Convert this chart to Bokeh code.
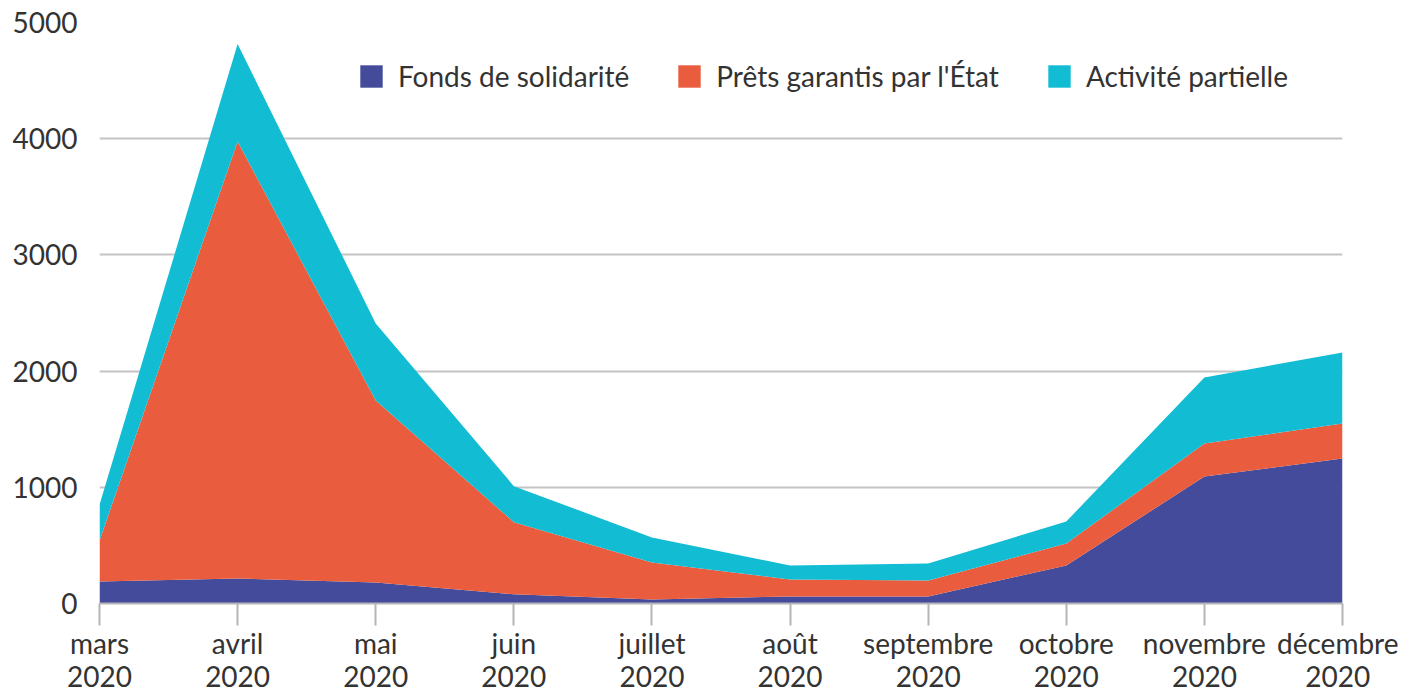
from bokeh.plotting import figure
from bokeh.models import Range1d, FixedTicker, ColumnDataSource, Legend, LegendItem
from bokeh.embed import file_html
from bokeh.resources import INLINE

months = ["mars\n2020", "avril\n2020", "mai\n2020", "juin\n2020", "juillet\n2020",
          "août\n2020", "septembre\n2020", "octobre\n2020", "novembre\n2020", "décembre\n2020"]
fonds = [190, 215, 180, 80, 35, 60, 60, 327, 1093, 1248]
prets = [350, 3760, 1567, 620, 318, 147, 138, 189, 284, 301]
activite = [310, 840, 663, 310, 215, 120, 146, 190, 568, 611]
series_names = ["Fonds de solidarité", "Prêts garantis par l'État", "Activité partielle"]
colors = ["#444B9A", "#EA5C3E", "#12BDD4"]
y_ticks = [0, 1000, 2000, 3000, 4000, 5000]

FONT = "Lato"
TXT = "#333333"

x = list(range(len(months)))
src = ColumnDataSource(dict(x=x, fonds=fonds, prets=prets, activite=activite))

W, H = 1398, 695
p = figure(width=W, height=H, output_backend="svg", toolbar_location=None,
           x_range=Range1d(0, len(months) - 1), y_range=Range1d(0, 5000),
           min_border_left=99, min_border_right=W - 1342, min_border_top=22,
           min_border_bottom=H - 603)
p.outline_line_color = None
p.background_fill_color = "white"

rs = p.varea_stack(["fonds", "prets", "activite"], x="x", source=src, color=colors)

legend = Legend(items=[LegendItem(label=n, renderers=[r]) for n, r in zip(series_names, rs)],
                orientation="horizontal", location=(258, 510))
legend.background_fill_alpha = 0
legend.border_line_color = None
legend.glyph_width = 28
legend.glyph_height = 28
legend.label_text_font = FONT
legend.label_text_font_size = "28px"
legend.label_text_color = TXT
legend.label_standoff = 13
legend.spacing = 46
legend.padding = 0
legend.margin = 0
legend.label_height = 28
p.add_layout(legend, "center")

# x axis
p.xaxis.ticker = FixedTicker(ticks=x)
p.xaxis.major_label_overrides = {i: m for i, m in enumerate(months)}
p.xaxis.axis_line_color = "#b5b5b5"
p.xaxis.axis_line_width = 2
p.xaxis.major_tick_line_color = "#b5b5b5"
p.xaxis.major_tick_line_width = 2
p.xaxis.major_tick_out = 22
p.xaxis.major_tick_in = 0
p.xaxis.minor_tick_line_color = None
p.xaxis.major_label_standoff = 0
p.xaxis.major_label_text_font = FONT
p.xaxis.major_label_text_font_size = "28px"
p.xaxis.major_label_text_line_height = 0.98
p.xaxis.major_label_text_color = TXT
p.xgrid.grid_line_color = None

# y axis
p.yaxis.ticker = FixedTicker(ticks=y_ticks)
p.yaxis.axis_line_color = None
p.yaxis.major_tick_line_color = None
p.yaxis.minor_tick_line_color = None
p.yaxis.major_tick_out = 0
p.yaxis.major_tick_in = 0
p.yaxis.major_label_standoff = 22
p.yaxis.major_label_text_font = FONT
p.yaxis.major_label_text_font_size = "28px"
p.yaxis.major_label_text_color = TXT
p.ygrid.grid_line_color = "#c4c4c4"
p.ygrid.grid_line_width = 2
p.ygrid.level = "underlay"

open("out.html", "w").write(file_html(p, INLINE))
